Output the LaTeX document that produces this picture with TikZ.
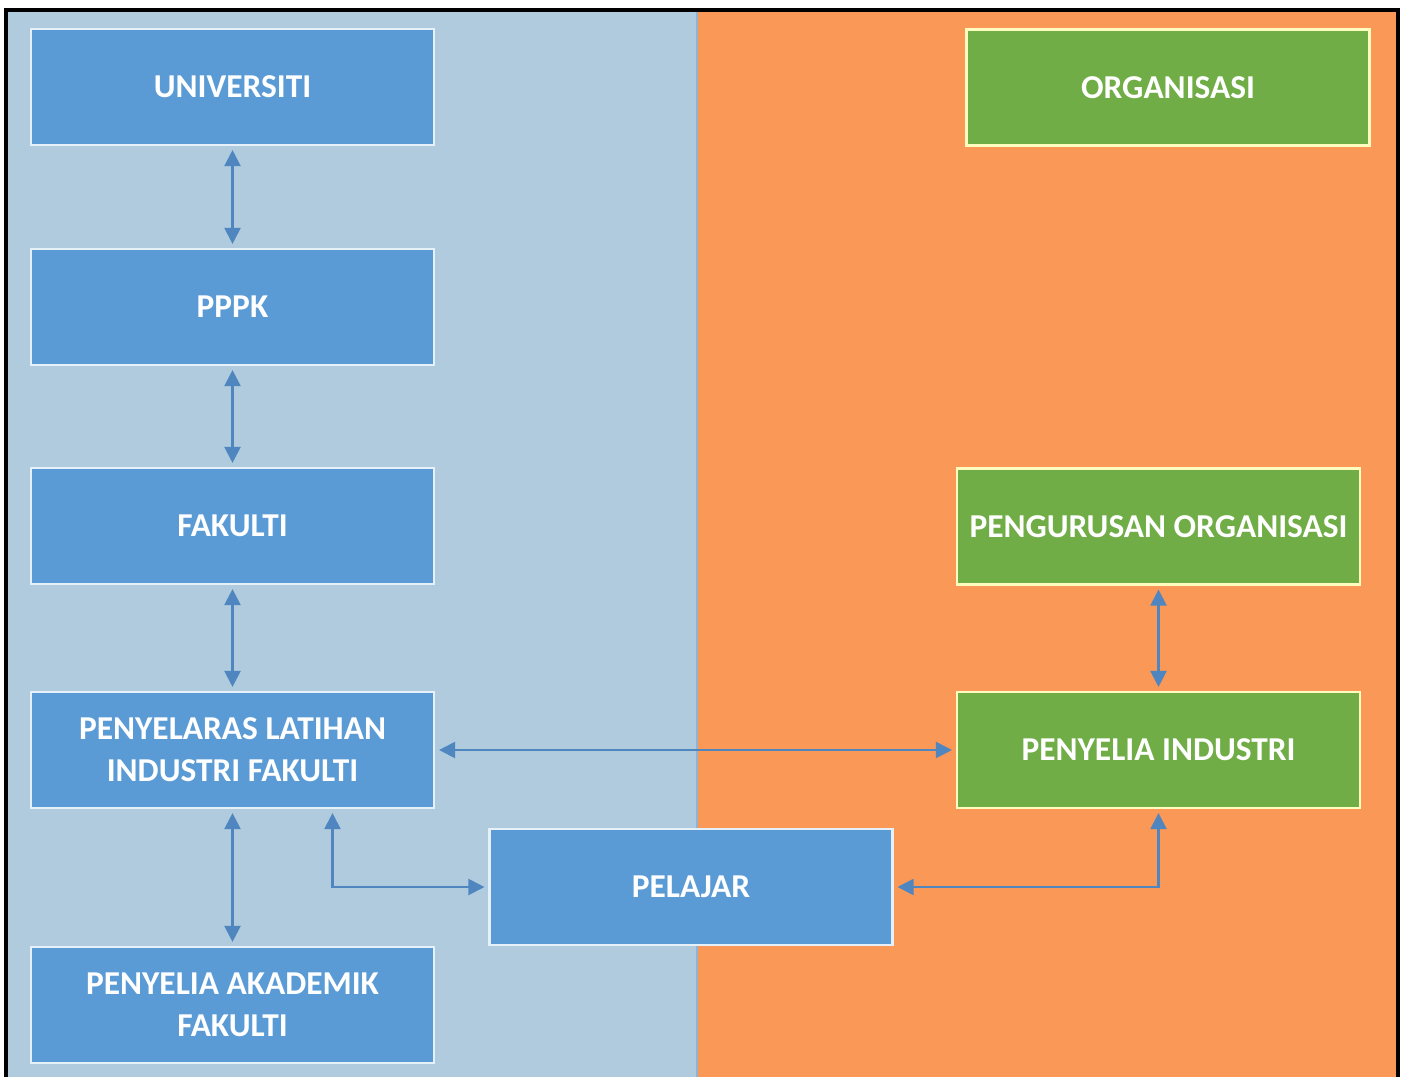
\documentclass[tikz,border=0pt]{standalone}
\usepackage{fontspec}
\setmainfont{Carlito}
\usetikzlibrary{arrows.meta}
\definecolor{kampus}{HTML}{AFCBDD}
\definecolor{industri}{HTML}{F99857}
\definecolor{biru}{HTML}{5B9BD5}
\definecolor{hijau}{HTML}{70AD47}
\definecolor{garis}{HTML}{4F86C0}
\tikzset{
    kotak/.style={draw=white!85!biru, line width=0.6pt, fill=biru, text=white,
        minimum width=4.03cm, minimum height=1.16cm, align=center,
        font=\fontsize{9.5}{12}\selectfont\bfseries},
    kotakhijau/.style={kotak, fill=hijau, draw=yellow!25!white},
    hubung/.style={garis, line width=0.6pt,
        {Triangle[length=1.6mm,width=1.6mm]}-{Triangle[length=1.6mm,width=1.6mm]},
        shorten <=0.4mm, shorten >=0.4mm}
}

\begin{document}
\begin{tikzpicture}

    \useasboundingbox[fill=white] (0,0) rectangle (14.03,-10.77);
    \fill[kampus] (0.06,-0.10) rectangle (6.97,-10.77);
    \fill[industri] (6.97,-0.10) rectangle (13.98,-10.77);
    \draw[garis!35!kampus, line width=0.5pt] (6.97,-0.10) -- (6.97,-10.77);
    \draw[line width=1pt] (0.06,-10.77) |- (13.98,-0.10) -- (13.98,-10.77);

    \draw(2.325,-0.87) node[kotak] (univ) {UNIVERSITI};
    \draw(2.325,-3.07) node[kotak] (pppk) {PPPK};
    \draw(2.325,-5.26) node[kotak] (fak) {FAKULTI};
    \draw(2.325,-7.50) node[kotak] (pilf) {PENYELARAS LATIHAN\\INDUSTRI FAKULTI};
    \draw(2.325,-10.05) node[kotak] (akad) {PENYELIA AKADEMIK\\FAKULTI};
    \draw(6.91,-8.87) node[kotak] (pelajar) {PELAJAR};
    \draw(11.68,-0.875) node[kotakhijau] (org) {ORGANISASI};
    \draw(11.585,-5.265) node[kotakhijau] (urus) {PENGURUSAN ORGANISASI};
    \draw(11.585,-7.50) node[kotakhijau] (sind) {PENYELIA INDUSTRI};

    \draw[hubung] (univ) -- (pppk);
    \draw[hubung] (pppk) -- (fak);
    \draw[hubung] (fak) -- (pilf);
    \draw[hubung] (pilf) -- (akad);
    \draw[hubung] (pilf) -- (sind);
    \draw[hubung] (urus) -- (sind);
    \draw[hubung] ([xshift=1cm]pilf.south) |- (pelajar.west);
    \draw[hubung] (sind.south) |- (pelajar.east);

\end{tikzpicture}
\end{document}
